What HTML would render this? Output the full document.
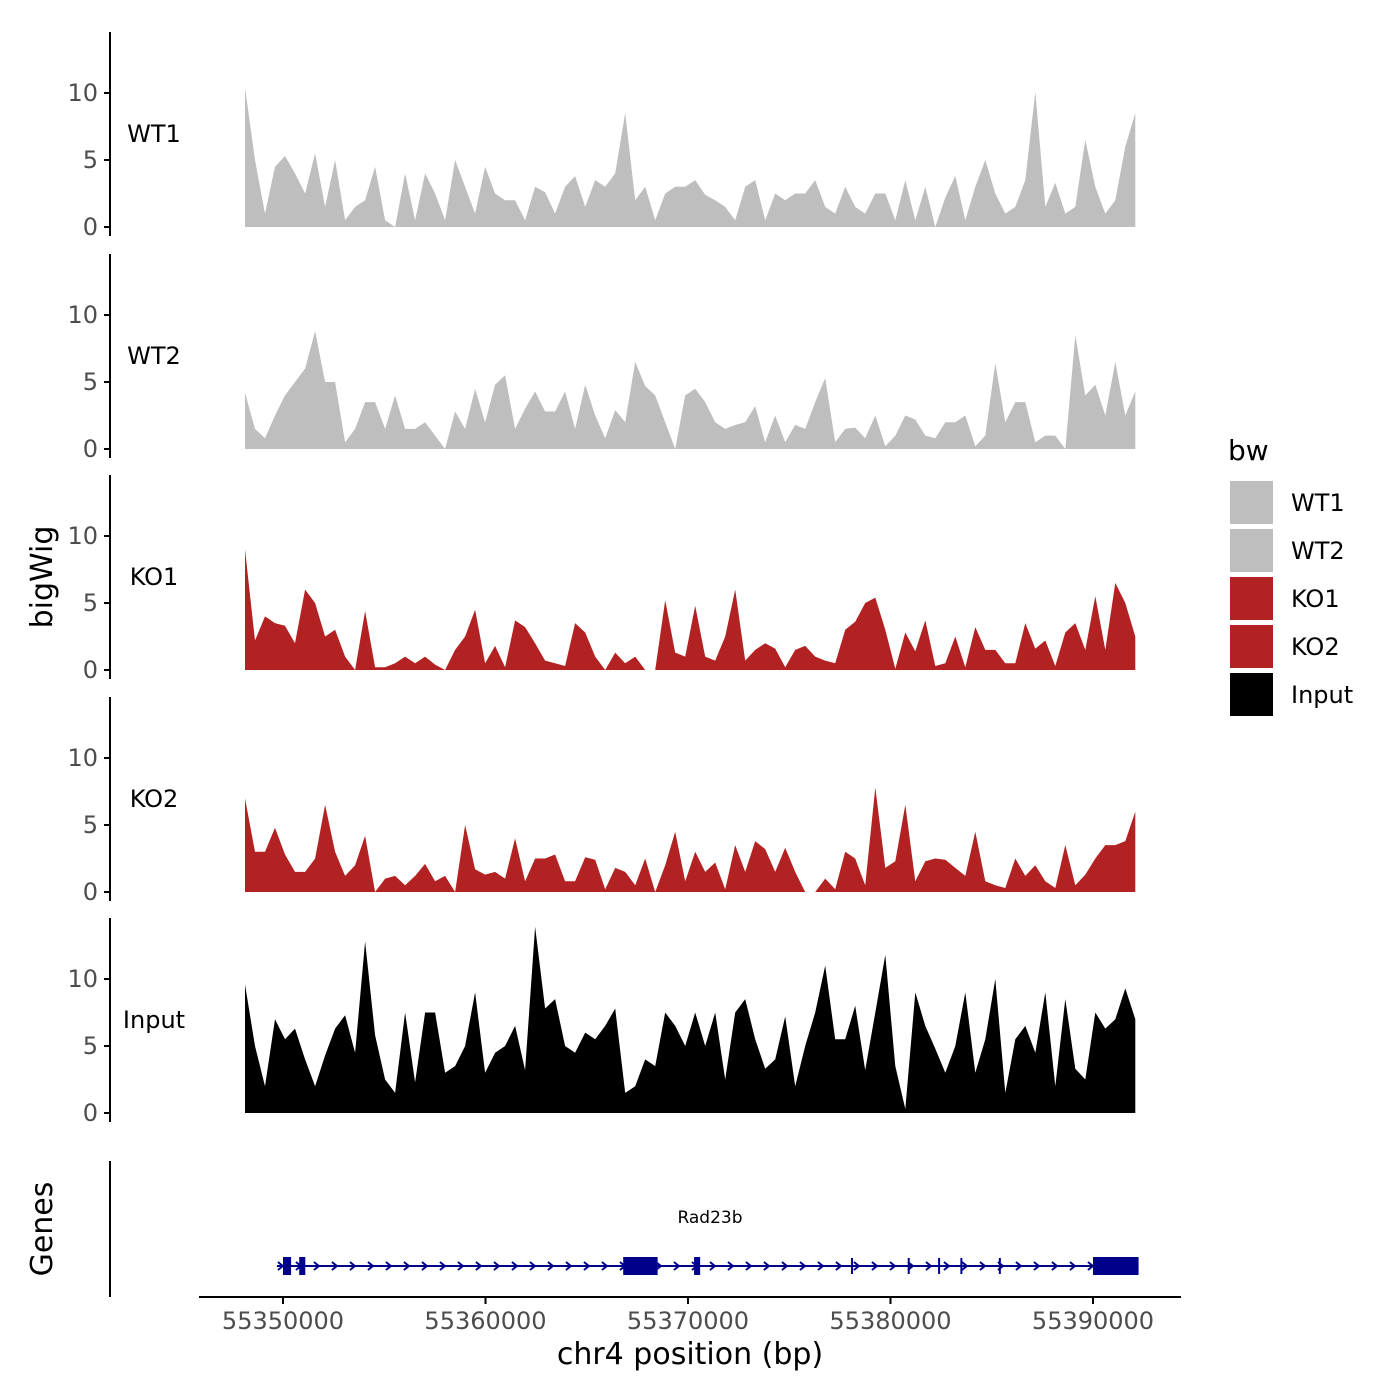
<!DOCTYPE html>
<html><head><meta charset="utf-8"><style>
html,body{margin:0;padding:0;background:#fff}
svg{display:block;font-family:"DejaVu Sans","Liberation Sans",sans-serif}
</style></head><body>
<svg id="chart" width="1400" height="1400" viewBox="0 0 1400 1400">
<rect width="1400" height="1400" fill="#fff"/>
<g id="tracks"></g>
<g id="genes"></g>
<g id="xaxis"></g>
<text x="52" y="577" transform="rotate(-90 52 577)" text-anchor="middle" font-size="30" fill="#000">bigWig</text>
<text x="52" y="1229" transform="rotate(-90 52 1229)" text-anchor="middle" font-size="30" fill="#000">Genes</text>
<text x="690" y="1364" text-anchor="middle" font-size="30" fill="#000">chr4 position (bp)</text>
<g id="legend">
<text x="1228" y="460" font-size="28" fill="#000">bw</text>
</g>
</svg>
<script>
const trackNames = ["WT1","WT2","KO1","KO2","Input"];
const trackColors = ["#bebebe","#bebebe","#b22222","#b22222","#000000"];
const binStart = 55348125;
const binStep = 494;
const yTicks = [0,5,10];
const xTicks = [55350000,55360000,55370000,55380000,55390000];
const xTickLabels = ["55350000","55360000","55370000","55380000","55390000"];
const wt1Values = [10.4,5,1,4.5,5.3,4,2.5,5.5,1.5,5,0.5,1.5,2,4.5,0.5,0,4,0.5,4,2.5,0.5,5,3,1,4.5,2.5,2,2,0.5,3,2.6,1,3,3.8,1.5,3.5,3,4,8.5,2,3,0.5,2.5,3,3,
3.5,2.4,2,1.5,0.5,3,3.5,0.5,2.5,2,2.5,2.5,3.5,1.5,1,3,1.5,1,2.5,2.5,0.5,3.5,0.5,3,0,2.2,3.8,0.5,3,5,2.5,1,1.5,3.5,10.1,1.5,3.3,1,1.5,6.5,3,1,2,6,8.5];
const wt2Values = [4.2,1.5,0.8,2.5,4,5,6,8.8,5,5,0.5,1.5,3.5,3.5,1.5,4,1.5,1.5,2,1,0,2.8,1.5,4.5,2,4.8,5.5,1.5,3,4.3,2.8,2.8,4.3,1.5,4.8,2.5,0.8,2.9,2,6.5,4.7,4,2,0,4,
4.5,3.5,2,1.5,1.8,2,3.2,0.5,2.5,0.5,1.8,1.5,3.5,5.3,0.5,1.5,1.6,0.8,2.5,0.2,1,2.5,2.2,1,0.8,2,2,2.5,0.2,1,6.4,2,3.5,3.5,0.5,1,1,0,8.5,4,4.8,2.5,6.5,2.5,4.3];
const ko1Values = [9,2.2,4,3.5,3.3,2,6,5,2.5,3,1,0,4.4,0.2,0.2,0.5,1,0.5,1,0.4,0,1.5,2.5,4.5,0.5,1.8,0.2,3.7,3.2,2,0.7,0.5,0.3,3.5,2.8,1,0,1.3,0.5,1,0,0,5.2,1.3,1,
4.8,1,0.7,2.5,6,0.7,1.5,2,1.6,0.2,1.5,1.8,1,0.7,0.5,3,3.6,5,5.4,3,0.1,2.8,1.4,3.7,0.3,0.5,2.5,0.2,3.2,1.5,1.5,0.5,0.5,3.5,1.6,2.2,0.3,2.8,3.5,1.5,5.5,1.5,6.5,5,2.5];
const ko2Values = [7,3,3,4.8,2.8,1.5,1.5,2.5,6.5,3,1.2,2,4.2,0,1,1.2,0.5,1.2,2.1,0.8,1.2,0,5,1.7,1.3,1.5,1,4,0.8,2.5,2.5,2.8,0.8,0.8,2.6,2.4,0.2,1.8,1.5,0.5,2.5,0,2,4.5,0.8,
3,1.5,2.2,0.2,3.5,1.5,3.8,3.2,1.5,3.3,1.5,0,0,1,0.2,3,2.5,0.5,7.8,1.8,2.3,6.5,0.8,2.3,2.5,2.4,1.8,1.2,4.5,0.8,0.5,0.3,2.5,1.2,2,0.8,0.3,3.5,0.5,1.3,2.5,3.5,3.5,3.8,6];
const inputValues = [9.6,5,2,7,5.5,6.3,4,2,4.3,6.3,7.3,4.5,12.8,5.8,2.5,1.5,7.5,2.3,7.5,7.5,3,3.5,5,9,3,4.5,5,6.5,3.2,13.9,7.8,8.5,5,4.5,6,5.5,6.5,7.8,1.5,2,4,3.5,7.5,6.5,5,
7.5,5,7.5,2.5,7.5,8.5,5.5,3.3,4,7.2,2,5,7.5,11,5.5,5.5,8,3.2,7.5,11.8,3.5,0.3,9,6.5,4.8,3,5,9,3,5.5,10,1.5,5.5,6.5,4.5,9,2,8.5,3.3,2.5,7.5,6.3,7,9.3,7];
const trackValues = [wt1Values,wt2Values,ko1Values,ko2Values,inputValues];
const exonStarts = [55350000,55350800,55366800,55370300,55390000];
const exonEnds = [55350400,55351100,55368500,55370600,55392250];
const geneStart = 55349700, geneEnd = 55392250;
const intronMarks = [55378100,55380900,55382400,55383500,55385400];

const NS = "http://www.w3.org/2000/svg";
function mk(tag, attrs, parent){const e=document.createElementNS(NS,tag);for(const k in attrs)e.setAttribute(k,attrs[k]);parent.appendChild(e);return e;}
const xScale = bp => 283 + (bp - 55350000) * 810 / 40000;
const trackBase = [227,449,670,892,1113];
const yScale = (t,v) => trackBase[t] - v * 13.4;

const tracksG = document.getElementById("tracks");
trackNames.forEach((name,t)=>{
  const g = mk("g",{},tracksG);
  
  
  const vals = trackValues[t];
  let pts = xScale(binStart).toFixed(1)+","+trackBase[t]+" ";
  vals.forEach((v,i)=>{pts += xScale(binStart+i*binStep).toFixed(1)+","+yScale(t,v).toFixed(1)+" ";});
  pts += xScale(binStart+(vals.length-1)*binStep).toFixed(1)+","+trackBase[t];
  const area = mk("polygon",{points:pts,fill:trackColors[t]},g);
  
  
  const ax = mk("line",{x1:110,x2:110,y1:trackBase[t]-195,y2:trackBase[t]+9,stroke:"#000","stroke-width":2},g);
  
  
  yTicks.forEach(v=>{
    const y = yScale(t,v);
    const tk = mk("line",{x1:104,x2:110,y1:y,y2:y,stroke:"#000","stroke-width":2},g);
    
    
    const lb = mk("text",{x:98,y:y+8,"text-anchor":"end","font-size":24,fill:"#4d4d4d"},g);
    lb.textContent = v;
    
    
  });
  const tl = mk("text",{x:154,y:yScale(t,7)+9,"text-anchor":"middle","font-size":24,fill:"#000"},g);
  tl.textContent = name;
  
  
});

const genesG = document.getElementById("genes");
const gax = mk("line",{x1:110,x2:110,y1:1161,y2:1297,stroke:"#000","stroke-width":2},genesG);


const gy = 1266;
const gl = mk("line",{x1:xScale(geneStart),x2:xScale(geneEnd),y1:gy,y2:gy,stroke:"#00008b","stroke-width":2},genesG);


for(let x=xScale(geneStart)+4; x<xScale(geneEnd)-4; x+=18){
  const ar = mk("polyline",{points:`${x-3},${gy-4} ${x+2},${gy} ${x-3},${gy+4}`,fill:"none",stroke:"#00008b","stroke-width":2},genesG);
  
  
}
intronMarks.forEach(p=>{
  const m = mk("line",{x1:xScale(p),x2:xScale(p),y1:gy-8,y2:gy+8,stroke:"#00008b","stroke-width":2},genesG);
  
  
});
exonStarts.forEach((s,i)=>{
  const r = mk("rect",{x:xScale(s),y:gy-9,width:Math.max(3,xScale(exonEnds[i])-xScale(s)),height:18,fill:"#00008b"},genesG);
  
  
});
const gn = mk("text",{x:710,y:1223,"text-anchor":"middle","font-size":17,fill:"#000"},genesG);
gn.textContent = "Rad23b";



const xg = document.getElementById("xaxis");
const xl = mk("line",{x1:199,x2:1181,y1:1297,y2:1297,stroke:"#000","stroke-width":2},xg);


xTicks.forEach((v,i)=>{
  const x = xScale(v);
  const tk = mk("line",{x1:x,x2:x,y1:1297,y2:1304,stroke:"#000","stroke-width":2},xg);
  
  
  const lb = mk("text",{x:x,y:1329,"text-anchor":"middle","font-size":24,fill:"#4d4d4d"},xg);
  lb.textContent = xTickLabels[i];
  
  
});

const lg = document.getElementById("legend");
trackNames.forEach((name,i)=>{
  const y = 481 + i*48;
  const k = mk("rect",{x:1230,y:y,width:43,height:43,fill:trackColors[i]},lg);
  
  
  const t = mk("text",{x:1291,y:y+30,"font-size":24,fill:"#000"},lg);
  t.textContent = name;
  
  
});
</script>
</body></html>
